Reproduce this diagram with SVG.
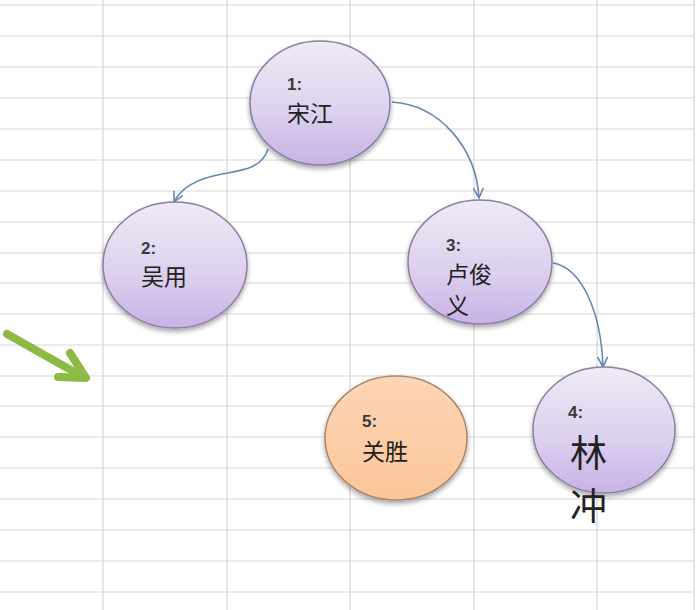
<svg xmlns="http://www.w3.org/2000/svg" width="697" height="610" viewBox="0 0 697 610">
<defs>
<style>
.grid line{stroke:#d6d6d6;stroke-width:1.2}
.node ellipse{stroke-width:1.5}
.purple{fill:url(#gp);stroke:#8d7ea6}
.orange{fill:url(#go);stroke:#a9876e}
.num{font-family:"Liberation Sans",Arial,sans-serif;font-size:17px;font-weight:bold;fill:#3a3a3a}
.lbl{font-family:"Noto Sans CJK SC","Noto Sans CJK JP",sans-serif;font-size:23px;fill:#222}
.big{font-family:"Noto Sans CJK SC","Noto Sans CJK JP",sans-serif;font-size:37px;fill:#222}
.conn path{fill:none;stroke:#6289b5;stroke-width:1.6}
</style>
<linearGradient id="gp" x1="0" y1="0" x2="0" y2="1">
<stop offset="0" stop-color="#eeeaf5"/>
<stop offset="0.55" stop-color="#ddd2ee"/>
<stop offset="1" stop-color="#c7b2e6"/>
</linearGradient>
<linearGradient id="go" x1="0" y1="0" x2="0" y2="1">
<stop offset="0" stop-color="#fcd6b6"/>
<stop offset="1" stop-color="#fbc699"/>
</linearGradient>
<filter id="sh" x="-20%" y="-20%" width="140%" height="150%">
<feGaussianBlur in="SourceAlpha" stdDeviation="2.5"/>
<feOffset dx="0" dy="3"/>
<feComponentTransfer><feFuncA type="linear" slope="0.35"/></feComponentTransfer>
<feMerge><feMergeNode/><feMergeNode in="SourceGraphic"/></feMerge>
</filter>
<marker id="ah" viewBox="0 0 12 12" refX="11" refY="6" markerWidth="12" markerHeight="12" markerUnits="userSpaceOnUse" orient="auto">
<path d="M1,1 L11,6 L1,11" fill="none" stroke="#6289b5" stroke-width="1.6"/>
</marker>
</defs>
<rect width="697" height="610" fill="#ffffff"/>
<g class="grid">
<line x1="0" y1="5" x2="693" y2="5"/>
<line x1="0" y1="36" x2="693" y2="36"/>
<line x1="0" y1="67" x2="693" y2="67"/>
<line x1="0" y1="98" x2="693" y2="98"/>
<line x1="0" y1="129" x2="693" y2="129"/>
<line x1="0" y1="160" x2="693" y2="160"/>
<line x1="0" y1="191" x2="693" y2="191"/>
<line x1="0" y1="222" x2="693" y2="222"/>
<line x1="0" y1="253" x2="693" y2="253"/>
<line x1="0" y1="283" x2="693" y2="283"/>
<line x1="0" y1="314" x2="693" y2="314"/>
<line x1="0" y1="345" x2="693" y2="345"/>
<line x1="0" y1="376" x2="693" y2="376"/>
<line x1="0" y1="406" x2="693" y2="406"/>
<line x1="0" y1="437" x2="693" y2="437"/>
<line x1="0" y1="468" x2="693" y2="468"/>
<line x1="0" y1="499" x2="693" y2="499"/>
<line x1="0" y1="530" x2="693" y2="530"/>
<line x1="0" y1="561" x2="693" y2="561"/>
<line x1="0" y1="592" x2="693" y2="592"/>
<line x1="103" y1="0" x2="103" y2="610"/>
<line x1="227" y1="0" x2="227" y2="610"/>
<line x1="350" y1="0" x2="350" y2="610"/>
<line x1="474" y1="0" x2="474" y2="610"/>
<line x1="597" y1="0" x2="597" y2="610"/>
<line x1="694" y1="0" x2="694" y2="610"/>
</g>
<g id="green-arrow">
<line x1="7" y1="334" x2="78" y2="374" stroke="#8cba45" stroke-width="8" stroke-linecap="round"/>
<path d="M70,353 L86,378 L58,377" fill="none" stroke="#8cba45" stroke-width="8" stroke-linecap="round" stroke-linejoin="round"/>
</g>
<g class="conn" id="connectors">
<path d="M268,149 C262,168 244,170 222,174 C200,178 182,186 174,202" marker-end="url(#ah)"/>
<path d="M392,102 C440,105 476,148 479,198" marker-end="url(#ah)"/>
<path d="M553,263 C582,268 601,312 603,367" marker-end="url(#ah)"/>
</g>
<g id="node1" class="node">
<ellipse class="purple" cx="320" cy="103" rx="70" ry="62" filter="url(#sh)"/>
<text class="num" x="287" y="90">1:</text>
<text class="lbl" x="287" y="122">宋江</text>
</g>
<g id="node2" class="node">
<ellipse class="purple" cx="175" cy="265" rx="72" ry="63" filter="url(#sh)"/>
<text class="num" x="141" y="254">2:</text>
<text class="lbl" x="141" y="285">吴用</text>
</g>
<g id="node3" class="node">
<ellipse class="purple" cx="480" cy="262" rx="72" ry="62" filter="url(#sh)"/>
<text class="num" x="446" y="251">3:</text>
<text class="lbl" x="446" y="283">卢俊</text>
<text class="lbl" x="446" y="314">义</text>
</g>
<g id="node5" class="node">
<ellipse class="orange" cx="396" cy="438" rx="71" ry="62" filter="url(#sh)"/>
<text class="num" x="362" y="427">5:</text>
<text class="lbl" x="362" y="460">关胜</text>
</g>
<g id="node4" class="node">
<ellipse class="purple" cx="604" cy="430" rx="71" ry="63" filter="url(#sh)"/>
<text class="num" x="568" y="418">4:</text>
<text class="big" x="570" y="467">林</text>
<text class="big" x="570" y="520">冲</text>
</g>
</svg>
